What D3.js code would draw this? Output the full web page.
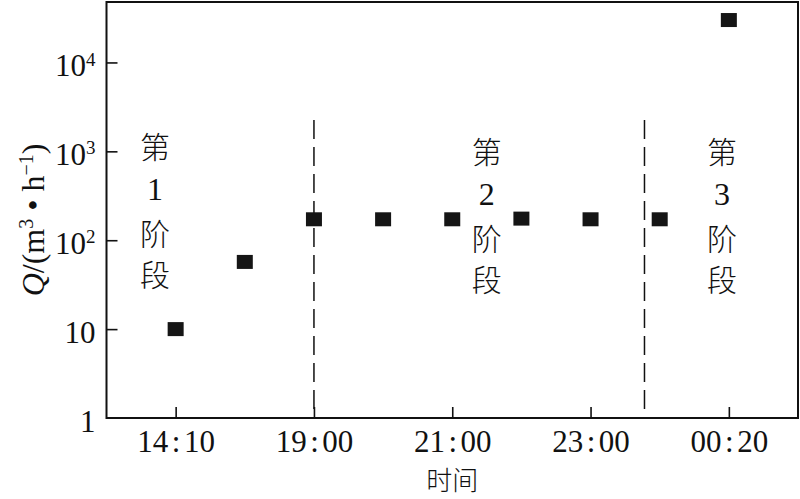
<!DOCTYPE html>
<html>
<head>
<meta charset="utf-8">
<script src="https://cdn.jsdelivr.net/npm/d3@7/dist/d3.min.js"></script>
<style>
  html, body { margin: 0; padding: 0; background: #fff; }
  svg { display: block; }
  text { fill: #111; }
</style>
</head>
<body>
<svg id="chart" width="800" height="499"></svg>
<script>
// ---- data ----
const timeIndex = [0, 1, 2, 3, 4, 5, 6, 7, 8];
const flowValues = [10, 57, 172, 172, 172, 175, 172, 172, 30000];
const xTickIndex = [0, 2, 4, 6, 8];
const xTickLabels = ["14:10", "19:00", "21:00", "23:00", "00:20"];
const yTickValues = [1, 10, 100, 1000, 10000];
const yTickLabels = [["1", ""], ["10", ""], ["10", "2"], ["10", "3"], ["10", "4"]];
const phaseBoundaries = [2, 6.78];
const stageNames = [["第", "1", "阶", "段"], ["第", "2", "阶", "段"], ["第", "3", "阶", "段"]];
const stageCenters = [-0.3, 4.5, 7.9];

// ---- layout ----
const pLeft = 106.5, pRight = 798, pTop = 2, pBottom = 418;
const svg = d3.select("#chart");
const serif = "'Liberation Serif', 'DejaVu Serif', serif";
const cjk = "'Noto Sans CJK SC', sans-serif";

const x = d3.scaleLinear().domain([-1, 9]).range([pLeft, pRight]);
const y = d3.scaleLog().domain([1, Math.pow(10, 4.68)]).range([pBottom, pTop]);

// frame
svg.append("rect")
  .attr("x", pLeft).attr("y", pTop)
  .attr("width", pRight - pLeft).attr("height", pBottom - pTop)
  .attr("fill", "none").attr("stroke", "#111").attr("stroke-width", 2);

// x axis
const xAxis = d3.axisBottom(x)
  .tickValues(xTickIndex)
  .tickSizeInner(-11).tickSizeOuter(0)
  .tickPadding(24)
  .tickFormat((d, i) => xTickLabels[i]);
const gx = svg.append("g").attr("transform", `translate(0,${pBottom})`).call(xAxis);
gx.select(".domain").remove();
gx.selectAll(".tick line").attr("stroke", "#111").attr("stroke-width", 1.6);
gx.selectAll(".tick text").each(function(d, i) {
  const parts = xTickLabels[i].split(":");
  const t = d3.select(this)
    .attr("font-family", serif).attr("font-size", 31)
    .attr("fill", "#111").attr("dy", "0.71em").attr("y", 12);
  t.text(null);
  t.append("tspan").text(parts[0]);
  t.append("tspan").attr("dx", 3.5).text(":");
  t.append("tspan").attr("dx", 3.5).text(parts[1]);
});

// y axis
const yAxis = d3.axisLeft(y)
  .tickValues(yTickValues)
  .tickSizeInner(-11).tickSizeOuter(0)
  .tickPadding(0)
  .tickFormat(() => "");
const gy = svg.append("g").attr("transform", `translate(${pLeft},0)`).call(yAxis);
gy.select(".domain").remove();
gy.selectAll(".tick line").attr("stroke", "#111").attr("stroke-width", 1.6)
  .attr("display", d => d === 1 ? "none" : null);
gy.selectAll(".tick text").each(function(d, i) {
  const t = d3.select(this)
    .attr("font-family", serif).attr("font-size", 31).attr("fill", "#111")
    .attr("x", -11).attr("dy", "0.42em").attr("text-anchor", "end");
  t.text(null);
  t.append("tspan").text(yTickLabels[i][0]);
  if (yTickLabels[i][1]) {
    t.append("tspan").attr("font-size", 19).attr("dy", "-0.55em").text(yTickLabels[i][1]);
  }
});

// phase boundary dashed lines
svg.selectAll("line.phase").data(phaseBoundaries).enter().append("line")
  .attr("class", "phase")
  .attr("x1", d => x(d)).attr("x2", d => x(d))
  .attr("y1", 120).attr("y2", pBottom)
  .attr("stroke", "#111").attr("stroke-width", 1.5)
  .attr("stroke-dasharray", "19,8");

// stage labels
const lineOffsets = [0, 44, 87, 128];
stageNames.forEach((chars, si) => {
  const base = si === 0 ? 145 : 150;
  chars.forEach((c, ci) => {
    svg.append("text")
      .attr("x", x(stageCenters[si]))
      .attr("y", base + lineOffsets[ci])
      .attr("text-anchor", "middle")
      .attr("dominant-baseline", "central")
      .attr("font-family", ci === 1 ? serif : cjk)
      .attr("font-size", ci === 1 ? 32 : 30)
      .attr("font-weight", 300)
      .text(c);
  });
});

// points
svg.selectAll("rect.pt").data(timeIndex).enter().append("rect")
  .attr("class", "pt")
  .attr("x", (d) => x(d) - 8)
  .attr("y", (d, i) => y(flowValues[i]) - 7)
  .attr("width", 16).attr("height", 14)
  .attr("fill", "#151515");

// y axis title
const yt = svg.append("text")
  .attr("transform", "translate(44,220) rotate(-90)")
  .attr("text-anchor", "middle")
  .attr("font-family", serif).attr("font-size", 32);
yt.append("tspan").attr("font-style", "italic").text("Q");
yt.append("tspan").text("/(m");
yt.append("tspan").attr("font-size", 20).attr("dy", "-0.55em").text("3");
yt.append("tspan").attr("dy", "0.34em").text(" • h");
yt.append("tspan").attr("font-size", 20).attr("dy", "-0.55em").text("−1");
yt.append("tspan").attr("dy", "0.34em").text(")");

// x axis title
svg.append("text")
  .attr("x", x(4)).attr("y", 490)
  .attr("text-anchor", "middle")
  .attr("font-family", cjk).attr("font-size", 26).attr("font-weight", 300)
  .text("时间");
</script>
</body>
</html>
